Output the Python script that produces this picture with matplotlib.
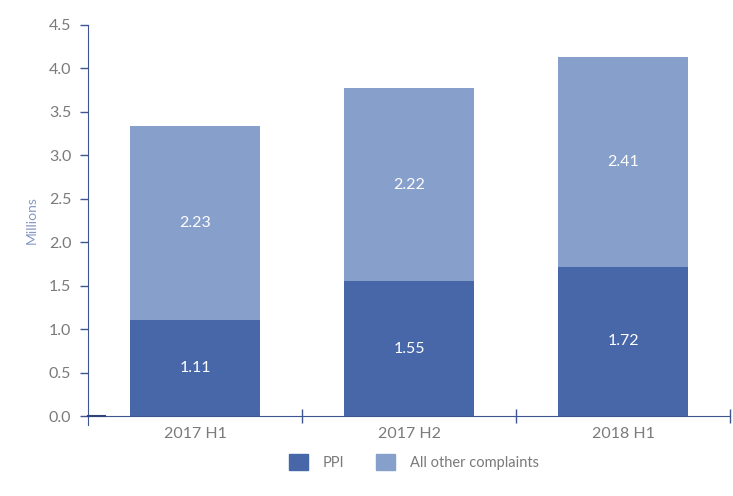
import matplotlib
matplotlib.use("Agg")
import matplotlib.pyplot as plt
from matplotlib.patches import Patch

periods = ["2017 H1", "2017 H2", "2018 H1"]
ppi = [1.11, 1.55, 1.72]
other = [2.23, 2.22, 2.41]
yticks = [0.0, 0.5, 1.0, 1.5, 2.0, 2.5, 3.0, 3.5, 4.0, 4.5]

dark = "#4767a9"
light = "#879fcb"
axcol = "#3d5590"
txt = "#7a7a7a"

plt.rcParams["font.family"] = ["Lato", "DejaVu Sans"]

fig = plt.figure(figsize=(7.33, 4.96), dpi=100)
ax = fig.add_axes([0.12, 0.161, 0.876, 0.789])

x = list(range(len(periods)))
ax.bar(x, ppi, width=0.61, color=dark, zorder=2)
ax.bar(x, other, width=0.61, bottom=ppi, color=light, zorder=2)

for i in x:
    ax.text(i, ppi[i] / 2, f"{ppi[i]:.2f}", ha="center", va="center",
            color="white", fontsize=11.5)
    ax.text(i, ppi[i] + other[i] / 2, f"{other[i]:.2f}", ha="center", va="center",
            color="white", fontsize=11.5)

# short darker baseline stub next to the y axis
ax.plot([-0.5, -0.42], [0, 0], color="#2f4378", lw=1.5, zorder=3, clip_on=False)

ax.set_xlim(-0.5, 2.5)
ax.set_ylim(0, 4.5)
ax.set_yticks(yticks)
ax.set_yticklabels([f"{v:.1f}" for v in yticks])
ax.set_xticks([0.5, 1.5, 2.5])
ax.set_xticklabels([])
ax.set_xticks(x, minor=True)
ax.set_xticklabels(periods, minor=True)
ax.tick_params(axis="x", which="minor", length=0, pad=8, labelsize=11.5, labelcolor=txt)
ax.tick_params(axis="x", which="major", length=10, direction="inout", color=axcol, width=1)
ax.tick_params(axis="y", length=6, color=axcol, width=1, labelsize=11.5, labelcolor=txt, pad=6)

for s in ["top", "right"]:
    ax.spines[s].set_visible(False)
ax.spines["left"].set_color(axcol)
ax.spines["bottom"].set_color(axcol)
ax.spines["left"].set_bounds(-0.1, 4.5)

ax.set_ylabel("Millions", color="#8898c4", fontsize=10, labelpad=8)

handles = [Patch(color=dark, label="PPI"), Patch(color=light, label="All other complaints")]
fig.legend(handles=handles, loc="center", bbox_to_anchor=(0.565, 0.068), ncol=2,
           frameon=False, fontsize=10.5, labelcolor=txt, handlelength=1.3, handleheight=1.3,
           columnspacing=2.2, handletextpad=1.0)

fig.savefig("out.png", dpi=100)
print("saved out.png")
